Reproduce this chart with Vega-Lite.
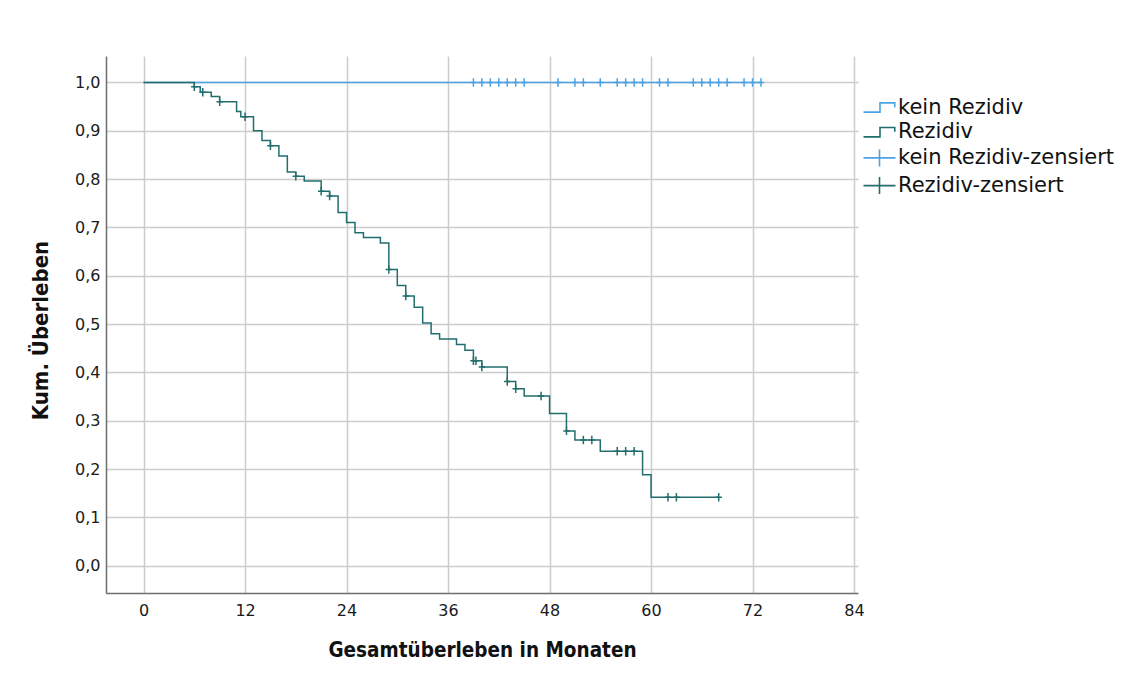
{
  "$schema": "https://vega.github.io/schema/vega-lite/v6.json",
  "width": 752,
  "height": 537,
  "autosize": {"type": "none"},
  "padding": {"left": 106, "top": 56, "right": 276, "bottom": 82},
  "background": "white",
  "config": {
    "view": {"stroke": null},
    "axis": {
      "labelFont": "DejaVu Sans",
      "labelFontSize": 16,
      "labelColor": "#1a1a1a",
      "titleFont": "DejaVu Sans Condensed",
      "titleFontSize": 20,
      "titleFontWeight": "bold",
      "titleColor": "#111111",
      "ticks": false,
      "grid": true,
      "gridColor": "#cccccc",
      "gridWidth": 1.5,
      "domainColor": "#6e6e6e",
      "domainWidth": 1.5
    }
  },
  "datasets": {
    "steps": [
      {"gruppe": "kein Rezidiv", "monat": 0, "ueberleben": 1.0},
      {"gruppe": "kein Rezidiv", "monat": 73, "ueberleben": 1.0},
      {"gruppe": "Rezidiv", "monat": 0, "ueberleben": 1.0},
      {"gruppe": "Rezidiv", "monat": 6, "ueberleben": 0.991},
      {"gruppe": "Rezidiv", "monat": 6.7, "ueberleben": 0.98},
      {"gruppe": "Rezidiv", "monat": 8, "ueberleben": 0.971},
      {"gruppe": "Rezidiv", "monat": 9, "ueberleben": 0.96},
      {"gruppe": "Rezidiv", "monat": 11, "ueberleben": 0.94},
      {"gruppe": "Rezidiv", "monat": 11.5, "ueberleben": 0.929},
      {"gruppe": "Rezidiv", "monat": 13, "ueberleben": 0.9},
      {"gruppe": "Rezidiv", "monat": 14, "ueberleben": 0.88},
      {"gruppe": "Rezidiv", "monat": 15, "ueberleben": 0.869},
      {"gruppe": "Rezidiv", "monat": 16, "ueberleben": 0.848},
      {"gruppe": "Rezidiv", "monat": 17, "ueberleben": 0.815},
      {"gruppe": "Rezidiv", "monat": 18, "ueberleben": 0.806},
      {"gruppe": "Rezidiv", "monat": 19, "ueberleben": 0.796},
      {"gruppe": "Rezidiv", "monat": 21, "ueberleben": 0.775},
      {"gruppe": "Rezidiv", "monat": 22, "ueberleben": 0.765},
      {"gruppe": "Rezidiv", "monat": 23, "ueberleben": 0.731},
      {"gruppe": "Rezidiv", "monat": 24, "ueberleben": 0.71},
      {"gruppe": "Rezidiv", "monat": 25, "ueberleben": 0.689},
      {"gruppe": "Rezidiv", "monat": 26, "ueberleben": 0.679},
      {"gruppe": "Rezidiv", "monat": 28, "ueberleben": 0.668},
      {"gruppe": "Rezidiv", "monat": 29, "ueberleben": 0.613},
      {"gruppe": "Rezidiv", "monat": 30, "ueberleben": 0.58},
      {"gruppe": "Rezidiv", "monat": 31, "ueberleben": 0.558},
      {"gruppe": "Rezidiv", "monat": 32, "ueberleben": 0.535},
      {"gruppe": "Rezidiv", "monat": 33, "ueberleben": 0.502},
      {"gruppe": "Rezidiv", "monat": 34, "ueberleben": 0.48},
      {"gruppe": "Rezidiv", "monat": 35, "ueberleben": 0.469},
      {"gruppe": "Rezidiv", "monat": 37, "ueberleben": 0.458},
      {"gruppe": "Rezidiv", "monat": 38, "ueberleben": 0.446},
      {"gruppe": "Rezidiv", "monat": 39, "ueberleben": 0.424},
      {"gruppe": "Rezidiv", "monat": 40, "ueberleben": 0.411},
      {"gruppe": "Rezidiv", "monat": 43, "ueberleben": 0.381},
      {"gruppe": "Rezidiv", "monat": 44, "ueberleben": 0.366},
      {"gruppe": "Rezidiv", "monat": 45, "ueberleben": 0.351},
      {"gruppe": "Rezidiv", "monat": 48, "ueberleben": 0.315},
      {"gruppe": "Rezidiv", "monat": 50, "ueberleben": 0.279},
      {"gruppe": "Rezidiv", "monat": 51, "ueberleben": 0.26},
      {"gruppe": "Rezidiv", "monat": 54, "ueberleben": 0.237},
      {"gruppe": "Rezidiv", "monat": 59, "ueberleben": 0.188},
      {"gruppe": "Rezidiv", "monat": 60, "ueberleben": 0.1415},
      {"gruppe": "Rezidiv", "monat": 68, "ueberleben": 0.1415}
    ],
    "censored": [
      {"legende": "kein Rezidiv-zensiert", "monat": 39, "ueberleben": 1.0},
      {"legende": "kein Rezidiv-zensiert", "monat": 40, "ueberleben": 1.0},
      {"legende": "kein Rezidiv-zensiert", "monat": 41, "ueberleben": 1.0},
      {"legende": "kein Rezidiv-zensiert", "monat": 42, "ueberleben": 1.0},
      {"legende": "kein Rezidiv-zensiert", "monat": 43, "ueberleben": 1.0},
      {"legende": "kein Rezidiv-zensiert", "monat": 44, "ueberleben": 1.0},
      {"legende": "kein Rezidiv-zensiert", "monat": 45, "ueberleben": 1.0},
      {"legende": "kein Rezidiv-zensiert", "monat": 49, "ueberleben": 1.0},
      {"legende": "kein Rezidiv-zensiert", "monat": 51, "ueberleben": 1.0},
      {"legende": "kein Rezidiv-zensiert", "monat": 52, "ueberleben": 1.0},
      {"legende": "kein Rezidiv-zensiert", "monat": 54, "ueberleben": 1.0},
      {"legende": "kein Rezidiv-zensiert", "monat": 56, "ueberleben": 1.0},
      {"legende": "kein Rezidiv-zensiert", "monat": 57, "ueberleben": 1.0},
      {"legende": "kein Rezidiv-zensiert", "monat": 58, "ueberleben": 1.0},
      {"legende": "kein Rezidiv-zensiert", "monat": 59, "ueberleben": 1.0},
      {"legende": "kein Rezidiv-zensiert", "monat": 61, "ueberleben": 1.0},
      {"legende": "kein Rezidiv-zensiert", "monat": 62, "ueberleben": 1.0},
      {"legende": "kein Rezidiv-zensiert", "monat": 65, "ueberleben": 1.0},
      {"legende": "kein Rezidiv-zensiert", "monat": 66, "ueberleben": 1.0},
      {"legende": "kein Rezidiv-zensiert", "monat": 67, "ueberleben": 1.0},
      {"legende": "kein Rezidiv-zensiert", "monat": 68, "ueberleben": 1.0},
      {"legende": "kein Rezidiv-zensiert", "monat": 69, "ueberleben": 1.0},
      {"legende": "kein Rezidiv-zensiert", "monat": 71, "ueberleben": 1.0},
      {"legende": "kein Rezidiv-zensiert", "monat": 72, "ueberleben": 1.0},
      {"legende": "kein Rezidiv-zensiert", "monat": 73, "ueberleben": 1.0},
      {"legende": "Rezidiv-zensiert", "monat": 6, "ueberleben": 0.991},
      {"legende": "Rezidiv-zensiert", "monat": 7, "ueberleben": 0.98},
      {"legende": "Rezidiv-zensiert", "monat": 9, "ueberleben": 0.96},
      {"legende": "Rezidiv-zensiert", "monat": 12, "ueberleben": 0.929},
      {"legende": "Rezidiv-zensiert", "monat": 15, "ueberleben": 0.869},
      {"legende": "Rezidiv-zensiert", "monat": 18, "ueberleben": 0.806},
      {"legende": "Rezidiv-zensiert", "monat": 21, "ueberleben": 0.775},
      {"legende": "Rezidiv-zensiert", "monat": 22, "ueberleben": 0.765},
      {"legende": "Rezidiv-zensiert", "monat": 29, "ueberleben": 0.613},
      {"legende": "Rezidiv-zensiert", "monat": 31, "ueberleben": 0.558},
      {"legende": "Rezidiv-zensiert", "monat": 39, "ueberleben": 0.424},
      {"legende": "Rezidiv-zensiert", "monat": 39.3, "ueberleben": 0.424},
      {"legende": "Rezidiv-zensiert", "monat": 40, "ueberleben": 0.411},
      {"legende": "Rezidiv-zensiert", "monat": 43, "ueberleben": 0.381},
      {"legende": "Rezidiv-zensiert", "monat": 44, "ueberleben": 0.366},
      {"legende": "Rezidiv-zensiert", "monat": 47, "ueberleben": 0.351},
      {"legende": "Rezidiv-zensiert", "monat": 50, "ueberleben": 0.279},
      {"legende": "Rezidiv-zensiert", "monat": 52, "ueberleben": 0.26},
      {"legende": "Rezidiv-zensiert", "monat": 53, "ueberleben": 0.26},
      {"legende": "Rezidiv-zensiert", "monat": 56, "ueberleben": 0.237},
      {"legende": "Rezidiv-zensiert", "monat": 57, "ueberleben": 0.237},
      {"legende": "Rezidiv-zensiert", "monat": 58, "ueberleben": 0.237},
      {"legende": "Rezidiv-zensiert", "monat": 62, "ueberleben": 0.1415},
      {"legende": "Rezidiv-zensiert", "monat": 63, "ueberleben": 0.1415},
      {"legende": "Rezidiv-zensiert", "monat": 68, "ueberleben": 0.1415}
    ]
  },
  "encoding": {
    "x": {
      "field": "monat",
      "type": "quantitative",
      "scale": {"domain": [-4.44, 84.47], "nice": false, "zero": false},
      "axis": {
        "values": [0, 12, 24, 36, 48, 60, 72, 84],
        "labelPadding": 9,
        "title": "Gesamtüberleben in Monaten",
        "titleFontSize": 20.5,
        "titlePadding": 22
      }
    },
    "y": {
      "field": "ueberleben",
      "type": "quantitative",
      "scale": {"domain": [-0.0565, 1.0548], "nice": false, "zero": false},
      "axis": {
        "values": [0, 0.1, 0.2, 0.3, 0.4, 0.5, 0.6, 0.7, 0.8, 0.9, 1.0],
        "labelExpr": "replace(format(datum.value, '.1f'), '.', ',')",
        "labelPadding": 6,
        "title": "Kum. Überleben",
        "titleFontSize": 22,
        "titlePadding": 22,
        "titleY": 274
      }
    }
  },
  "layer": [
    {
      "data": {"name": "steps"},
      "transform": [{"filter": "datum.gruppe === 'kein Rezidiv'"}],
      "mark": {"type": "line", "interpolate": "step-after", "strokeWidth": 1.5},
      "encoding": {
        "color": {
          "field": "gruppe",
          "type": "nominal",
          "scale": {
            "domain": ["kein Rezidiv", "Rezidiv", "kein Rezidiv-zensiert", "Rezidiv-zensiert"],
            "range": ["#4ba3e3", "#226e6e", "#4ba3e3", "#226e6e"]
          },
          "legend": {
            "title": null,
            "orient": "none",
            "legendX": 763,
            "legendY": 41,
            "padding": 0,
            "labelFont": "DejaVu Sans",
            "labelFontSize": 21,
            "labelColor": "#111111",
            "labelLimit": 400,
            "labelOffset": 8,
            "rowPadding": 2.7,
            "symbolSize": 100,
            "encode": {
              "symbols": {
                "update": {
                  "shape": {"signal": "indexof(datum.value, 'zensiert') >= 0 ? 'M-3.2,0H3.2M0,-1.7V1.7' : 'M-3.2,0.93H0.1V-0.93H3.05V-0.07'"},
                  "size": {"value": 100},
                  "strokeWidth": {"value": 1.6},
                  "fill": {"value": "transparent"},
                  "stroke": {"scale": "color", "field": "value"},
                  "opacity": {"value": 1}
                }
              }
            }
          }
        }
      }
    },
    {
      "data": {"name": "steps"},
      "transform": [{"filter": "datum.gruppe === 'Rezidiv'"}],
      "mark": {"type": "line", "interpolate": "step-after", "strokeWidth": 1.5},
      "encoding": {
        "color": {"field": "gruppe", "type": "nominal"}
      }
    },
    {
      "data": {"name": "censored"},
      "mark": {
        "type": "point",
        "shape": "M-0.75,0H0.75M0,-1V1",
        "size": 72,
        "strokeWidth": 1.5,
        "filled": false,
        "opacity": 1
      },
      "encoding": {
        "color": {"field": "legende", "type": "nominal"}
      }
    }
  ]
}
